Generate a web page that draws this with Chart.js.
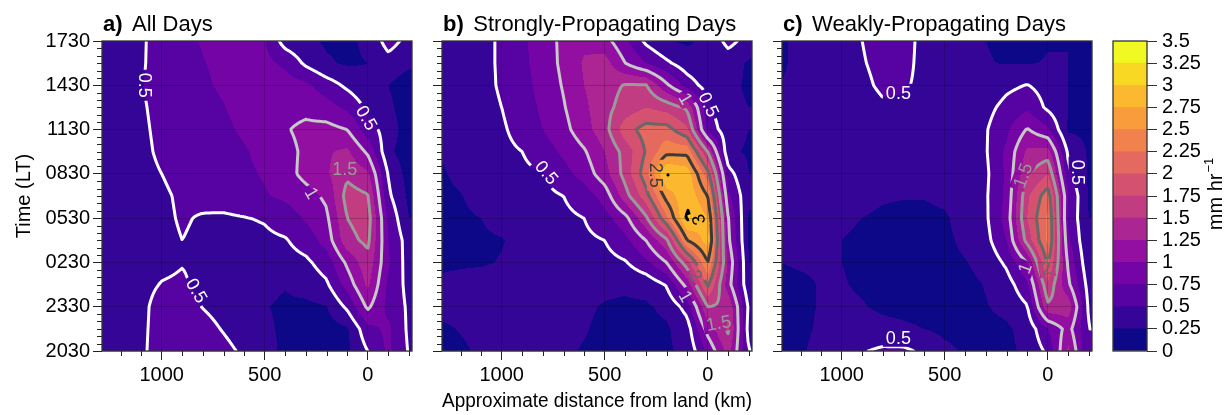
<!DOCTYPE html>
<html>
<head>
<meta charset="utf-8">
<script src="https://cdn.jsdelivr.net/npm/chart.js@4.4.1/dist/chart.umd.min.js"></script>
<style>
html,body{margin:0;padding:0;background:#fff;}
#wrap{position:relative;width:1231px;height:415px;overflow:hidden;}
#wrap canvas{position:absolute;left:0;top:0;}
</style>
</head>
<body>
<div id="wrap">
<canvas id="panelA" width="1231" height="415"></canvas>
<canvas id="panelB" width="1231" height="415"></canvas>
<canvas id="panelC" width="1231" height="415"></canvas>
<canvas id="cbar" width="1231" height="415"></canvas>
</div>
<script>
// ---------------- data ----------------
// distance from land (km), columns left -> right
const distances = [1300,1200,1100,1000,900,800,700,600,500,400,300,200,100,0,-100,-200];
// hours after 2030 LT, rows top -> bottom
const hours = [21,19.5,18,16.5,15,13.5,12,10.5,9,7.5,6,4.5,3,1.5,0];
const timeTickHours = [0,3,6,9,12,15,18,21];
const timeLabels = ['2030','2330','0230','0530','0830','1130','1430','1730'];
const distanceTicks = [1000,500,0];
const levels = [0,0.25,0.5,0.75,1,1.25,1.5,1.75,2,2.25,2.5,2.75,3,3.25,3.5];
const levelColors = ['#0d0887','#350598','#5702a3','#7504a7','#920fa2','#ac2693','#c23c81','#d45270',
                     '#e4695e','#f1824d','#f99c3c','#fcb82e','#f9d824','#f0f921'];
const contourLevels = [0.5,1,1.5,2,2.5,3];
const contourColors = ['#ffffff','#c8c8c8','#9a9a9a','#686868','#3a3a3a','#000000'];
const unitText = 'mm hr';
const unitSup = '\u22121';

// mm/hr, rows = hours, cols = distances
const allDays = [
[0.40,0.42,0.48,0.56,0.68,0.77,0.82,0.82,0.76,0.39,0.30,0.22,0.20,0.30,0.60,0.42],
[0.40,0.42,0.48,0.57,0.66,0.74,0.80,0.84,0.82,0.70,0.45,0.28,0.22,0.25,0.40,0.30],
[0.40,0.43,0.49,0.57,0.65,0.72,0.78,0.84,0.87,0.86,0.80,0.62,0.45,0.30,0.25,0.12],
[0.40,0.43,0.48,0.55,0.63,0.69,0.74,0.82,0.88,0.92,0.93,0.85,0.70,0.45,0.30,0.12],
[0.40,0.42,0.47,0.54,0.61,0.66,0.71,0.78,0.88,0.98,1.06,1.08,1.00,0.62,0.38,0.12],
[0.40,0.42,0.46,0.53,0.59,0.64,0.68,0.73,0.81,0.92,1.05,1.22,1.30,0.95,0.30,0.12],
[0.40,0.41,0.45,0.50,0.56,0.61,0.66,0.71,0.77,0.90,1.08,1.22,1.45,1.30,0.48,0.15],
[0.40,0.41,0.44,0.47,0.53,0.57,0.62,0.67,0.73,0.80,0.90,1.05,1.60,1.52,0.55,0.20],
[0.40,0.41,0.43,0.46,0.52,0.48,0.46,0.49,0.52,0.62,0.78,0.95,1.50,1.62,0.70,0.25],
[0.40,0.41,0.43,0.45,0.50,0.46,0.42,0.42,0.45,0.48,0.62,0.85,1.42,1.56,0.75,0.38],
[0.40,0.41,0.43,0.45,0.49,0.45,0.41,0.39,0.38,0.40,0.45,0.62,1.05,1.42,0.78,0.38],
[0.40,0.41,0.44,0.51,0.53,0.44,0.38,0.35,0.30,0.26,0.34,0.46,0.85,1.30,0.70,0.42],
[0.40,0.41,0.45,0.58,0.62,0.49,0.40,0.33,0.26,0.22,0.20,0.24,0.55,1.05,0.68,0.46],
[0.40,0.41,0.46,0.58,0.66,0.60,0.48,0.36,0.28,0.22,0.17,0.15,0.22,0.68,0.80,0.45],
[0.40,0.41,0.46,0.60,0.70,0.68,0.58,0.45,0.30,0.22,0.17,0.14,0.20,0.50,0.80,0.48]
];
const strongDays = [
[0.40,0.42,0.46,0.52,0.70,0.90,1.05,1.20,1.10,0.80,0.45,0.25,0.22,0.30,0.58,0.40],
[0.40,0.42,0.46,0.52,0.68,0.88,1.05,1.28,1.35,1.00,0.75,0.55,0.35,0.25,0.35,0.22],
[0.40,0.41,0.45,0.52,0.65,0.85,1.02,1.25,1.40,1.52,1.52,1.05,0.65,0.38,0.30,0.22],
[0.40,0.41,0.44,0.50,0.62,0.80,0.98,1.20,1.42,1.60,1.75,1.65,1.45,0.55,0.30,0.25],
[0.38,0.40,0.43,0.47,0.58,0.75,0.92,1.15,1.40,1.90,2.10,2.10,1.80,0.66,0.35,0.25],
[0.26,0.34,0.41,0.45,0.50,0.63,0.80,0.97,1.25,1.60,2.02,2.42,2.42,1.50,0.30,0.22],
[0.22,0.30,0.38,0.42,0.45,0.49,0.66,0.85,1.15,1.60,2.15,3.03,2.90,2.10,0.60,0.25],
[0.20,0.24,0.32,0.38,0.42,0.44,0.50,0.62,0.85,1.40,1.90,2.60,2.95,2.50,0.80,0.30],
[0.20,0.22,0.25,0.32,0.38,0.41,0.45,0.50,0.65,0.92,1.45,2.20,3.05,2.75,1.00,0.22],
[0.18,0.20,0.22,0.24,0.30,0.36,0.40,0.45,0.50,0.68,1.00,1.45,2.50,2.85,1.05,0.22],
[0.20,0.22,0.23,0.26,0.32,0.36,0.38,0.38,0.42,0.48,0.70,1.00,1.65,2.50,1.20,0.25],
[0.30,0.32,0.33,0.33,0.33,0.33,0.32,0.30,0.28,0.27,0.32,0.52,1.10,2.05,1.10,0.30],
[0.30,0.30,0.33,0.35,0.35,0.33,0.30,0.27,0.24,0.23,0.22,0.30,0.60,1.50,1.45,0.45],
[0.22,0.26,0.30,0.33,0.34,0.32,0.28,0.26,0.22,0.20,0.20,0.22,0.38,1.10,1.55,0.40],
[0.20,0.22,0.28,0.32,0.33,0.30,0.27,0.24,0.20,0.19,0.20,0.22,0.30,0.80,1.35,0.50]
];
const weakDays = [
[0.22,0.30,0.36,0.42,0.50,0.62,0.60,0.42,0.33,0.28,0.25,0.22,0.20,0.24,0.25,0.20],
[0.22,0.30,0.37,0.42,0.48,0.58,0.58,0.42,0.34,0.30,0.26,0.24,0.24,0.26,0.25,0.20],
[0.25,0.30,0.35,0.38,0.44,0.55,0.53,0.44,0.36,0.33,0.32,0.44,0.51,0.40,0.25,0.20],
[0.30,0.32,0.34,0.36,0.38,0.46,0.45,0.38,0.36,0.36,0.42,0.58,0.70,0.45,0.25,0.20],
[0.32,0.33,0.34,0.35,0.36,0.37,0.37,0.36,0.36,0.38,0.48,0.70,1.02,0.80,0.22,0.20],
[0.32,0.33,0.34,0.35,0.36,0.36,0.36,0.35,0.35,0.40,0.48,0.80,1.30,1.35,0.45,0.22],
[0.32,0.33,0.34,0.34,0.34,0.34,0.34,0.34,0.35,0.40,0.45,0.80,1.45,1.75,0.55,0.22],
[0.30,0.32,0.33,0.32,0.30,0.27,0.26,0.26,0.30,0.38,0.47,0.80,1.70,2.15,0.75,0.22],
[0.28,0.30,0.30,0.28,0.25,0.22,0.20,0.20,0.22,0.35,0.46,0.85,1.75,2.30,0.70,0.25],
[0.27,0.28,0.27,0.25,0.22,0.20,0.19,0.19,0.20,0.30,0.42,0.75,1.60,2.30,0.80,0.25],
[0.25,0.27,0.27,0.25,0.22,0.20,0.19,0.18,0.19,0.24,0.32,0.55,1.00,2.05,0.95,0.30],
[0.20,0.22,0.26,0.26,0.23,0.20,0.19,0.18,0.18,0.20,0.26,0.38,0.70,1.70,1.05,0.40],
[0.20,0.22,0.26,0.28,0.26,0.22,0.20,0.19,0.18,0.20,0.24,0.30,0.48,1.45,1.40,0.45],
[0.20,0.22,0.27,0.30,0.32,0.30,0.28,0.25,0.20,0.19,0.20,0.22,0.32,0.75,1.10,0.50],
[0.21,0.23,0.30,0.38,0.48,0.55,0.55,0.45,0.30,0.22,0.20,0.20,0.30,0.55,1.30,0.50]
];
// contour labels: position (km, hour), text, rotation (deg), contour level index
const labelsA = [
  {km:1082,t:18.0,text:'0.5',rot:90,lv:0},
  {km:5,t:15.8,text:'0.5',rot:60,lv:0},
  {km:830,t:4.1,text:'0.5',rot:60,lv:0},
  {km:272,t:10.7,text:'1',rot:60,lv:1},
  {km:112,t:12.3,text:'1.5',rot:0,lv:2}
];
const labelsB = [
  {km:782,t:12.1,text:'0.5',rot:50,lv:0},
  {km:-5,t:16.7,text:'0.5',rot:65,lv:0},
  {km:107,t:17.1,text:'1',rot:60,lv:1},
  {km:252,t:11.9,text:'2.5',rot:90,lv:4},
  {km:44,t:8.9,text:'3',rot:250,lv:5},
  {km:58,t:5.1,text:'2',rot:60,lv:3},
  {km:107,t:3.7,text:'1',rot:60,lv:1},
  {km:-53,t:1.9,text:'1.5',rot:-10,lv:2}
];
const labelsC = [
  {km:725,t:17.5,text:'0.5',rot:0,lv:0},
  {km:-145,t:12.1,text:'0.5',rot:90,lv:0},
  {km:121,t:11.9,text:'1.5',rot:-70,lv:2},
  {km:111,t:5.6,text:'1',rot:-70,lv:1},
  {km:5,t:5.6,text:'2',rot:-10,lv:3},
  {km:725,t:0.9,text:'0.5',rot:0,lv:0}
];

// ---------------- helpers ----------------
const FAMILY = "'Liberation Sans', Arial, Helvetica, sans-serif";
Chart.defaults.font.family = FAMILY;
Chart.defaults.font.size = 20;
Chart.defaults.color = '#000';

function fracIndex(arr, v) {
  const n = arr.length, asc = arr[n-1] > arr[0];
  if (asc ? v <= arr[0] : v >= arr[0]) return 0;
  if (asc ? v >= arr[n-1] : v <= arr[n-1]) return n-1;
  for (let i = 0; i < n-1; i++) {
    const a = arr[i], b = arr[i+1];
    if ((v-a)*(v-b) <= 0) return i + (v-a)/(b-a);
  }
  return n-1;
}
function bilinear(g, fr, fc) {
  const r0 = Math.min(Math.floor(fr), g.length-2), c0 = Math.min(Math.floor(fc), g[0].length-2);
  const dr = fr - r0, dc = fc - c0;
  return g[r0][c0]*(1-dr)*(1-dc) + g[r0][c0+1]*(1-dr)*dc + g[r0+1][c0]*dr*(1-dc) + g[r0+1][c0+1]*dr*dc;
}
function levelIndex(v) {
  let k = 0;
  while (k < levelColors.length-1 && v >= levels[k+1]) k++;
  return k;
}
function hexRgb(h) { return [parseInt(h.slice(1,3),16), parseInt(h.slice(3,5),16), parseInt(h.slice(5,7),16)]; }

function marching(vals, nx, ny, xs, ys, lev) {
  const segs = [];
  for (let j = 0; j < ny-1; j++) for (let i = 0; i < nx-1; i++) {
    const v0 = vals[j*nx+i], v1 = vals[j*nx+i+1], v2 = vals[(j+1)*nx+i+1], v3 = vals[(j+1)*nx+i];
    const c = (v0>=lev?8:0)|(v1>=lev?4:0)|(v2>=lev?2:0)|(v3>=lev?1:0);
    if (c === 0 || c === 15) continue;
    const x0 = xs[i], x1 = xs[i+1], y0 = ys[j], y1 = ys[j+1];
    const top = [x0 + (x1-x0)*(lev-v0)/(v1-v0), y0];
    const right = [x1, y0 + (y1-y0)*(lev-v1)/(v2-v1)];
    const bottom = [x0 + (x1-x0)*(lev-v3)/(v2-v3), y1];
    const left = [x0, y0 + (y1-y0)*(lev-v0)/(v3-v0)];
    switch (c) {
      case 1: case 14: segs.push(left, bottom); break;
      case 2: case 13: segs.push(bottom, right); break;
      case 3: case 12: segs.push(left, right); break;
      case 4: case 11: segs.push(top, right); break;
      case 6: case 9: segs.push(top, bottom); break;
      case 7: case 8: segs.push(left, top); break;
      case 5: case 10: {
        const ctr = (v0+v1+v2+v3)/4;
        const cutTLBR = (c === 5) ? (ctr >= lev) : (ctr < lev);
        if (cutTLBR) segs.push(left, top, bottom, right); else segs.push(top, right, left, bottom);
        break;
      }
    }
  }
  return segs;
}

const contourPlugin = {
  id: 'contourField',
  beforeDraw(chart, args, o) {
    const {ctx, chartArea: a, scales: {x, y}} = chart;
    const L = Math.round(a.left), T = Math.round(a.top), R = Math.round(a.right), B = Math.round(a.bottom);
    const W = R - L, H = B - T;
    const fc = [], fr = [];
    for (let i = 0; i < W; i++) fc.push(fracIndex(distances, x.getValueForPixel(L + i + 0.5)));
    for (let j = 0; j < H; j++) fr.push(fracIndex(hours, y.getValueForPixel(T + j + 0.5)));
    const off = document.createElement('canvas'); off.width = W; off.height = H;
    const octx = off.getContext('2d');
    const img = octx.createImageData(W, H);
    const rgb = levelColors.map(hexRgb);
    for (let j = 0; j < H; j++) for (let i = 0; i < W; i++) {
      const c = rgb[levelIndex(bilinear(o.grid, fr[j], fc[i]))];
      const p = (j*W + i)*4;
      img.data[p] = c[0]; img.data[p+1] = c[1]; img.data[p+2] = c[2]; img.data[p+3] = 255;
    }
    octx.putImageData(img, 0, 0);
    ctx.drawImage(off, L, T);
  },
  afterDatasetsDraw(chart, args, o) {
    const {ctx, chartArea: a, scales: {x, y}} = chart;
    const s = 2, xs = [], ys = [];
    for (let px = a.left; px < a.right; px += s) xs.push(px); xs.push(a.right);
    for (let py = a.top; py < a.bottom; py += s) ys.push(py); ys.push(a.bottom);
    const nx = xs.length, ny = ys.length;
    const cf = xs.map(px => fracIndex(distances, x.getValueForPixel(px)));
    const rf = ys.map(py => fracIndex(hours, y.getValueForPixel(py)));
    const vals = new Float32Array(nx*ny);
    for (let j = 0; j < ny; j++) for (let i = 0; i < nx; i++) vals[j*nx+i] = bilinear(o.grid, rf[j], cf[i]);
    ctx.save();
    ctx.font = '18px ' + FAMILY;
    const labs = o.labels.map(l => Object.assign({}, l, {
      px: x.getPixelForValue(l.km), py: y.getPixelForValue(l.t), w: ctx.measureText(l.text).width}));
    ctx.beginPath();
    ctx.rect(a.left, a.top, a.right - a.left, a.bottom - a.top);
    labs.forEach(l => {
      ctx.save(); ctx.translate(l.px, l.py); ctx.rotate(l.rot*Math.PI/180);
      ctx.rect(-l.w/2 - 3, -9, l.w + 6, 18); ctx.restore();
    });
    ctx.clip('evenodd');
    ctx.lineCap = 'round'; ctx.lineJoin = 'round'; ctx.lineWidth = 3;
    contourLevels.forEach((lev, li) => {
      const segs = marching(vals, nx, ny, xs, ys, lev);
      if (!segs.length) return;
      ctx.strokeStyle = contourColors[li];
      ctx.beginPath();
      for (let k = 0; k < segs.length; k += 2) { ctx.moveTo(segs[k][0], segs[k][1]); ctx.lineTo(segs[k+1][0], segs[k+1][1]); }
      ctx.stroke();
    });
    ctx.restore();
    ctx.save();
    ctx.font = '18px ' + FAMILY; ctx.textAlign = 'center'; ctx.textBaseline = 'middle';
    labs.forEach(l => {
      ctx.save(); ctx.translate(l.px, l.py); ctx.rotate(l.rot*Math.PI/180);
      ctx.fillStyle = contourColors[l.lv]; ctx.fillText(l.text, 0, 1); ctx.restore();
    });
    ctx.restore();
  },
  afterDraw(chart, args, o) {
    const {ctx, chartArea: a, scales: {x, y}} = chart;
    ctx.save();
    // minor ticks
    ctx.strokeStyle = '#222'; ctx.lineWidth = 1;
    ctx.beginPath();
    for (let km = 1200; km >= -200; km -= 100) {
      if (distanceTicks.includes(km)) continue;
      const px = Math.round(x.getPixelForValue(km)) + 0.5;
      ctx.moveTo(px, a.bottom); ctx.lineTo(px, a.bottom + 5);
    }
    for (let h = 0; h <= 21; h += 0.5) {
      if (timeTickHours.includes(h)) continue;
      const py = Math.round(y.getPixelForValue(h)) + 0.5;
      ctx.moveTo(a.left - 5, py); ctx.lineTo(a.left, py);
    }
    ctx.stroke();
    // frame
    ctx.strokeStyle = '#333'; ctx.lineWidth = 1.3;
    ctx.strokeRect(a.left, a.top, a.right - a.left, a.bottom - a.top);
    // title
    ctx.fillStyle = '#000'; ctx.textBaseline = 'alphabetic'; ctx.textAlign = 'left';
    ctx.font = 'bold 22px ' + FAMILY;
    ctx.fillText(o.panel, a.left + 1, 31);
    const w = ctx.measureText(o.panel).width;
    ctx.font = '22px ' + FAMILY;
    ctx.fillText(o.title, a.left + 1 + w + 9.5, 31);
    ctx.restore();
  }
};

const X_MIN = -215, X_MAX = 1290;
function makePanel(id, grid, cfg) {
  const W = 1231, H = 415;
  const yW = cfg.yLabels ? 94 : 10;
  const xH = cfg.xTitle ? 64 : 40;
  const pad = {left: cfg.area[0] - yW, right: W - cfg.area[1], top: 41, bottom: H - 351 - xH};
  const points = [];
  hours.forEach((h, r) => distances.forEach((d, c) => points.push({x: d, y: h, v: grid[r][c]})));
  const gridOpts = {color: 'rgba(0,0,0,0.2)', tickColor: '#222', tickLength: 9, lineWidth: 1};
  return new Chart(document.getElementById(id), {
    type: 'scatter',
    data: {datasets: [{data: points, pointRadius: 0, pointHoverRadius: 0}]},
    options: {
      responsive: false, animation: false, events: [], devicePixelRatio: 1,
      layout: {padding: pad, autoPadding: false},
      plugins: {legend: {display: false}, tooltip: {enabled: false},
        contourField: {grid: grid, labels: cfg.labels, panel: cfg.panel, title: cfg.title}},
      scales: {
        x: {type: 'linear', reverse: true, min: X_MIN, max: X_MAX,
          afterBuildTicks: s => { s.ticks = distanceTicks.map(v => ({value: v})); },
          afterFit: s => { s.height = xH; },
          ticks: {maxRotation: 0, autoSkip: false, padding: 3, color: '#000', font: {size: 20},
            callback: v => String(v)},
          grid: gridOpts, border: {display: false},
          title: {display: !!cfg.xTitle, text: cfg.xTitle || '', color: '#000', font: {size: 20},
            padding: {top: 4, bottom: 2}}
        },
        y: {type: 'linear', min: 0, max: 21,
          afterBuildTicks: s => { s.ticks = timeTickHours.map(v => ({value: v})); },
          afterFit: s => { s.width = yW; },
          ticks: {autoSkip: false, padding: 3, color: '#000', font: {size: 20},
            callback: v => cfg.yLabels ? timeLabels[timeTickHours.indexOf(v)] : ''},
          grid: gridOpts, border: {display: false},
          title: {display: !!cfg.yLabels, text: 'Time (LT)', color: '#000', font: {size: 20}}
        }
      }
    },
    plugins: [contourPlugin]
  });
}

makePanel('panelA', allDays, {area: [102, 412], yLabels: true, panel: 'a)', title: 'All Days', labels: labelsA});
makePanel('panelB', strongDays, {area: [442, 752], yLabels: false, panel: 'b)', title: 'Strongly-Propagating Days',
  labels: labelsB, xTitle: 'Approximate distance from land (km)'});
makePanel('panelC', weakDays, {area: [782, 1092], yLabels: false, panel: 'c)', title: 'Weakly-Propagating Days', labels: labelsC});

// ---------------- colorbar ----------------
const colorbarPlugin = {
  id: 'colorbarFrame',
  afterDraw(chart) {
    const {ctx, chartArea: a} = chart;
    ctx.save();
    ctx.strokeStyle = '#333'; ctx.lineWidth = 1.3;
    ctx.strokeRect(a.left, a.top, a.right - a.left, a.bottom - a.top);
    ctx.translate(1216, 194); ctx.rotate(-Math.PI/2);
    ctx.fillStyle = '#000'; ctx.textBaseline = 'middle'; ctx.textAlign = 'left';
    ctx.font = '20px ' + FAMILY; const w1 = ctx.measureText(unitText).width;
    ctx.font = '13px ' + FAMILY; const w2 = ctx.measureText(unitSup).width;
    const x0 = -(w1 + w2 + 1)/2;
    ctx.font = '20px ' + FAMILY; ctx.fillText(unitText, x0, 0);
    ctx.font = '13px ' + FAMILY; ctx.fillText(unitSup, x0 + w1 + 1, -7);
    ctx.restore();
  }
};
new Chart(document.getElementById('cbar'), {
  type: 'bar',
  data: {labels: [''], datasets: levelColors.map((c, i) => ({
    data: [[levels[i], levels[i+1]]], backgroundColor: c, borderWidth: 0,
    barPercentage: 1, categoryPercentage: 1, grouped: false}))},
  options: {
    responsive: false, animation: false, events: [], devicePixelRatio: 1,
    layout: {padding: {left: 1113, right: 0, top: 41, bottom: 64}, autoPadding: false},
    plugins: {legend: {display: false}, tooltip: {enabled: false}},
    scales: {
      x: {display: false},
      y: {position: 'right', min: 0, max: 3.5,
        afterBuildTicks: s => { s.ticks = levels.map(v => ({value: v})); },
        afterFit: s => { s.width = 84; },
        ticks: {autoSkip: false, padding: 5, color: '#000', font: {size: 20}, callback: v => String(v)},
        grid: {drawOnChartArea: false, tickLength: 10, tickColor: '#333'},
        border: {display: false}}
    }
  },
  plugins: [colorbarPlugin]
});
</script>
</body>
</html>
